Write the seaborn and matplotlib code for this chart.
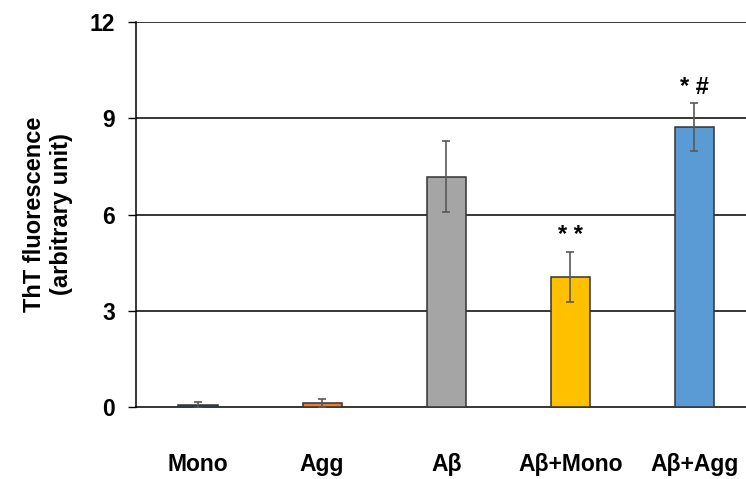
import matplotlib
matplotlib.use("Agg")
import matplotlib.pyplot as plt
import seaborn as sns
import pandas as pd

# Thioflavin T fluorescence per sample group
groups = ["Mono", "Agg", "Aβ", "Aβ+Mono", "Aβ+Agg"]
means = [0.07, 0.13, 7.18, 4.05, 8.73]
errors = [0.09, 0.12, 1.11, 0.79, 0.74]
colors = ["#2F5597", "#ED7D31", "#A5A5A5", "#FFC000", "#5B9BD5"]
marks = ["", "", "", "* *", "* #"]
y_ticks = [0, 3, 6, 9, 12]

sns.set_theme(style="white")
plt.rcParams["font.family"] = ["Liberation Sans", "DejaVu Sans"]
plt.rcParams["font.weight"] = "bold"
plt.rcParams["text.color"] = "black"
plt.rcParams["axes.labelcolor"] = "black"
plt.rcParams["xtick.color"] = "black"
plt.rcParams["ytick.color"] = "black"

df = pd.DataFrame({"group": groups, "value": means})

fig = plt.figure(figsize=(7.46, 4.79), dpi=100)
ax = fig.add_axes([0.1823, 0.1503, 0.8317, 0.8037])

sns.barplot(data=df, x="group", y="value", hue="group", palette=colors,
            saturation=1, width=0.315, edgecolor="#333333", linewidth=1.1,
            legend=False, ax=ax, zorder=3)

ax.errorbar(range(len(groups)), means, yerr=errors, fmt="none",
            ecolor="#595959", elinewidth=1.2, capsize=3, capthick=1.2,
            zorder=4)

for i, (m, e, t) in enumerate(zip(means, errors, marks)):
    if t:
        ax.text(i, m + e + 0.5, t, ha="center", va="center",
                fontsize=17, fontweight="bold", color="black", zorder=5)

ax.set_xlim(-0.5, len(groups) - 0.5)
ax.set_ylim(0, 12)
ax.set_yticks(y_ticks)
ax.set_yticklabels([str(t) for t in y_ticks], fontsize=16.5, fontweight="bold")
ax.set_xticks(range(len(groups)))
ax.set_xticklabels(groups, fontsize=16.5, fontweight="bold")

for t in y_ticks[1:]:
    ax.axhline(t, color="black", linewidth=1.1, zorder=1)

for side in ["top", "right"]:
    ax.spines[side].set_visible(False)
ax.spines["left"].set_color("black")
ax.spines["left"].set_linewidth(1.1)
ax.spines["bottom"].set_color("black")
ax.spines["bottom"].set_linewidth(1.1)

ax.tick_params(axis="y", direction="out", length=6, width=1, color="black",
               pad=9, left=True)
ax.tick_params(axis="x", length=0, pad=33)

ax.set_xlabel("")
ax.set_ylabel("ThT fluorescence\n(arbitrary unit)", fontsize=17,
              fontweight="bold", labelpad=12, linespacing=1.25)

fig.savefig("out.png", dpi=100)
